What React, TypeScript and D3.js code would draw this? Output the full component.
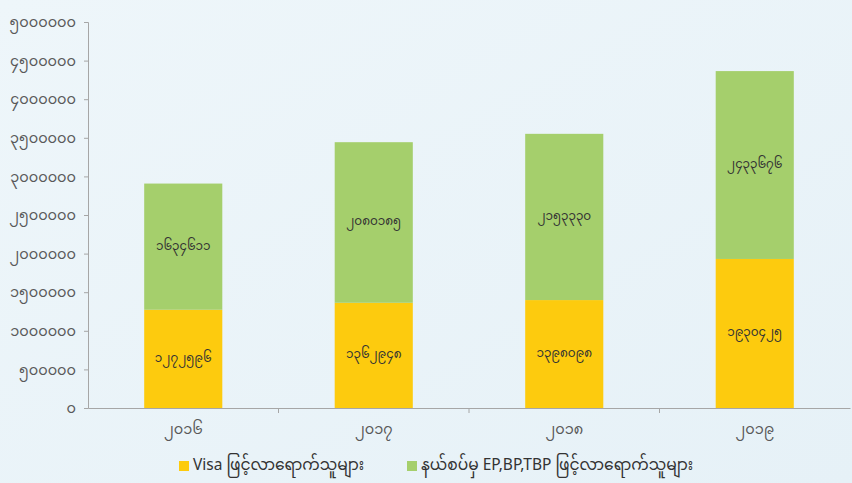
import { useEffect, useRef } from 'react';
import * as d3 from 'd3';

const years = ['၂၀၁၆', '၂၀၁၇', '၂၀၁၈', '၂၀၁၉'];
const visaValues = [1272596, 1362948, 1398098, 1930425];
const borderValues = [1634611, 2080185, 2153330, 2433676];
const yTicks = [0, 500000, 1000000, 1500000, 2000000, 2500000, 3000000, 3500000, 4000000, 4500000, 5000000];
const seriesNames = ['Visa ဖြင့်လာရောက်သူများ', 'နယ်စပ်မှ EP,BP,TBP ဖြင့်လာရောက်သူများ'];
const colors = ['#FDCB0E', '#A5CF6C'];

const MY_DIGITS = '၀၁၂၃၄၅၆၇၈၉';
const toMyanmar = (n: number) => String(n).replace(/[0-9]/g, (d) => MY_DIGITS[+d]);

export default function App() {
  const ref = useRef<SVGSVGElement>(null);

  useEffect(() => {
    if (!ref.current) return;
    const svg = d3.select(ref.current);
    svg.selectAll('*').remove();

    const W = 852, H = 483;
    const margin = { top: 22, right: 2, bottom: 75, left: 88 };
    const font = '"Noto Sans Myanmar", "Noto Sans", sans-serif';

    // background
    const grad = svg.append('defs').append('linearGradient')
      .attr('id', 'bg').attr('x1', 0).attr('y1', 0).attr('x2', 1).attr('y2', 1);
    grad.append('stop').attr('offset', '0%').attr('stop-color', '#eef6fa');
    grad.append('stop').attr('offset', '100%').attr('stop-color', '#e6f1f7');
    svg.append('rect').attr('width', W).attr('height', H).attr('fill', 'url(#bg)');

    const x = d3.scaleBand().domain(years).range([margin.left, W - margin.right]).paddingInner(0).paddingOuter(0);
    const y = d3.scaleLinear().domain([0, 5000000]).range([H - margin.bottom, margin.top]);

    const stackData = years.map((yr, i) => ({ year: yr, visa: visaValues[i], border: borderValues[i] }));
    const stack = d3.stack<any>().keys(['visa', 'border'])(stackData);

    const barW = x.bandwidth() * 0.41;
    const g = svg.append('g');
    stack.forEach((layer, li) => {
      layer.forEach((d) => {
        const cx = x(d.data.year)! + x.bandwidth() / 2;
        g.append('rect')
          .attr('x', cx - barW / 2)
          .attr('y', y(d[1]))
          .attr('width', barW)
          .attr('height', y(d[0]) - y(d[1]))
          .attr('fill', colors[li]);
        g.append('text')
          .attr('x', cx)
          .attr('y', (y(d[0]) + y(d[1])) / 2)
          .attr('text-anchor', 'middle')
          .attr('dominant-baseline', 'central')
          .attr('font-family', font)
          .attr('font-size', 12)
          .attr('fill', '#333')
          .text(toMyanmar(d[1] - d[0]));
      });
    });

    // y axis
    const yAxis = svg.append('g')
      .attr('transform', `translate(${margin.left},0)`)
      .call(d3.axisLeft(y).tickValues(yTicks).tickSize(4).tickPadding(8).tickFormat((v) => toMyanmar(+v)));
    yAxis.select('.domain').attr('stroke', '#a6a6a6');
    yAxis.selectAll('.tick line').attr('stroke', '#a6a6a6');
    yAxis.selectAll('.tick text').attr('fill', '#595959').attr('font-size', 14.5).attr('font-family', font);

    // x axis
    const xAxis = svg.append('g')
      .attr('transform', `translate(0,${y(0)})`)
      .call(d3.axisBottom(x).tickSize(0).tickPadding(16));
    xAxis.select('.domain').attr('stroke', '#a6a6a6');
    xAxis.selectAll('.tick text').attr('fill', '#595959').attr('font-size', 14.5).attr('font-family', font);
    // category boundary ticks
    xAxis.selectAll('.bound').data(years.slice(1)).enter().append('line')
      .attr('x1', (d) => x(d)!).attr('x2', (d) => x(d)!)
      .attr('y1', 0).attr('y2', 5).attr('stroke', '#a6a6a6');

    // legend
    const legendX = [179, 407];
    const lg = svg.append('g').attr('transform', `translate(0,${H - 17})`);
    seriesNames.forEach((name, i) => {
      lg.append('rect').attr('x', legendX[i]).attr('y', -5).attr('width', 10).attr('height', 10).attr('fill', colors[i]);
      lg.append('text').attr('x', legendX[i] + 14).attr('y', 0)
        .attr('dominant-baseline', 'central')
        .attr('font-family', font).attr('font-size', 15.5).attr('fill', '#333')
        .text(name);
    });
  }, []);

  return <svg ref={ref} width={852} height={483} style={{ display: 'block', position: 'absolute', left: 0, top: 0 }} />;
}
